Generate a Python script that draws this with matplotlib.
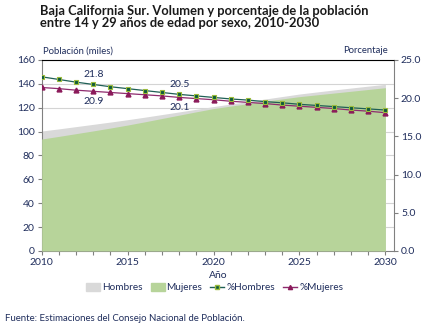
import matplotlib
matplotlib.use("Agg")
import matplotlib.pyplot as plt
from matplotlib.patches import Patch
from matplotlib.lines import Line2D

plt.rcParams['font.family'] = ['Lato', 'DejaVu Sans']

# Datos: población de 14 a 29 años (miles) y porcentaje por sexo
anios = list(range(2010, 2031))
hombres = [100.5, 102.3, 104.2, 106.1, 108.0, 110.0, 112.1, 114.3, 116.5, 118.7, 121.0,
           123.1, 125.2, 127.3, 129.4, 131.5, 133.2, 134.9, 136.5, 138.1, 139.6]
mujeres = [93.8, 96.0, 98.3, 100.6, 103.0, 105.5, 108.2, 111.0, 113.8, 116.6, 119.3,
           121.4, 123.4, 125.4, 127.4, 129.3, 130.8, 132.3, 133.8, 135.3, 136.8]
pct_hombres = [22.8, 22.45, 22.1, 21.8, 21.5, 21.25, 21.0, 20.75, 20.5, 20.3, 20.1,
               19.9, 19.75, 19.55, 19.4, 19.2, 19.05, 18.9, 18.75, 18.6, 18.45]
pct_mujeres = [21.4, 21.25, 21.05, 20.9, 20.75, 20.6, 20.45, 20.3, 20.1, 19.95, 19.8,
               19.6, 19.45, 19.3, 19.1, 18.95, 18.8, 18.65, 18.45, 18.3, 18.1]
# años con etiqueta de valor
anios_etiqueta = [2013, 2018]

texto = '#1f2d5c'
gris = '#d9d9d9'
verde = '#b7d49a'
c_hom = '#1f5f55'
c_muj = '#8e2b6e'

fig = plt.figure(figsize=(4.29, 3.30), dpi=100)
ax = fig.add_axes([0.0972, 0.2394, 0.8212, 0.5788])

ax.fill_between(anios, 0, hombres, color=gris, lw=0, zorder=2)
ax.fill_between(anios, 0, mujeres, color=verde, lw=0, zorder=3)

ax.set_xlim(2010, 2030.5)
ax.set_ylim(0, 160)
ax.set_yticks(range(0, 161, 20))
ax.set_xticks(anios)
ax.set_xticklabels([str(a) if a % 5 == 0 else '' for a in anios])
ax.grid(axis='y', color='#d4d4d4', lw=0.8, zorder=1)
ax.set_axisbelow(True)
ax.tick_params(axis='both', direction='out', length=3, width=0.8, color='#808080',
               labelsize=7.5, labelcolor=texto, pad=2)
for s in ['left', 'bottom', 'right']:
    ax.spines[s].set_color('#808080')
ax.spines['top'].set_color('black')
ax.set_xlabel('Año', fontsize=7.5, color=texto, labelpad=3)

ax2 = ax.twinx()
ax2.plot(anios, pct_hombres, color=c_hom, lw=0.9, marker='s', ms=3.5,
         mfc='#0f5a3c', mec='#9bbb3b', mew=0.8, zorder=5)
ax2.plot(anios, pct_mujeres, color=c_muj, lw=0.9, marker='^', ms=3.5,
         mfc='#8b1a5a', mec='#8b1a5a', zorder=4)
ax2.set_ylim(0, 25)
ax2.set_yticks(range(0, 26, 5))
ax2.set_yticklabels([f'{v:.1f}' for v in range(0, 26, 5)])
ax2.tick_params(axis='y', direction='out', length=3, width=0.8, color='#808080',
                labelsize=7.5, labelcolor=texto, pad=2)
for s in ax2.spines.values():
    s.set_visible(False)

for a in anios_etiqueta:
    i = anios.index(a)
    ax2.annotate(f'{pct_hombres[i]:.1f}', (a, pct_hombres[i]), xytext=(0, 4),
                 textcoords='offset points', ha='center', va='bottom',
                 fontsize=7.5, color=texto)
    ax2.annotate(f'{pct_mujeres[i]:.1f}', (a, pct_mujeres[i]), xytext=(0, -4),
                 textcoords='offset points', ha='center', va='top',
                 fontsize=7.5, color=texto)

fig.text(0.093, 0.985, 'Baja California Sur. Volumen y porcentaje de la población\n'
         'entre 14 y 29 años de edad por sexo, 2010-2030',
         fontsize=9.3, fontweight='bold', color='#1a1a1a', va='top', ha='left',
         linespacing=1.0)
fig.text(0.100, 0.832, 'Población (miles)', fontsize=6.8, color=texto, ha='left', va='bottom')
fig.text(0.905, 0.832, 'Porcentaje', fontsize=6.8, color=texto, ha='right', va='bottom')

handles = [
    Patch(color=gris, label='Hombres'),
    Patch(color=verde, label='Mujeres'),
    Line2D([], [], color=c_hom, lw=1, marker='s', ms=3, mfc='#0f5a3c',
           mec='#9bbb3b', label='%Hombres'),
    Line2D([], [], color=c_muj, lw=1, marker='^', ms=3, mfc='#8b1a5a',
           mec='#8b1a5a', label='%Mujeres'),
]
fig.legend(handles=handles, loc='center', bbox_to_anchor=(0.50, 0.128), ncol=4,
           frameon=False, fontsize=7.2, handlelength=1.4, handleheight=0.8,
           handletextpad=0.2, columnspacing=0.8, labelcolor=texto)

fig.text(0.012, 0.022, 'Fuente: Estimaciones del Consejo Nacional de Población.',
         fontsize=6.9, color=texto, ha='left', va='bottom')

fig.savefig('out.png', dpi=100)
